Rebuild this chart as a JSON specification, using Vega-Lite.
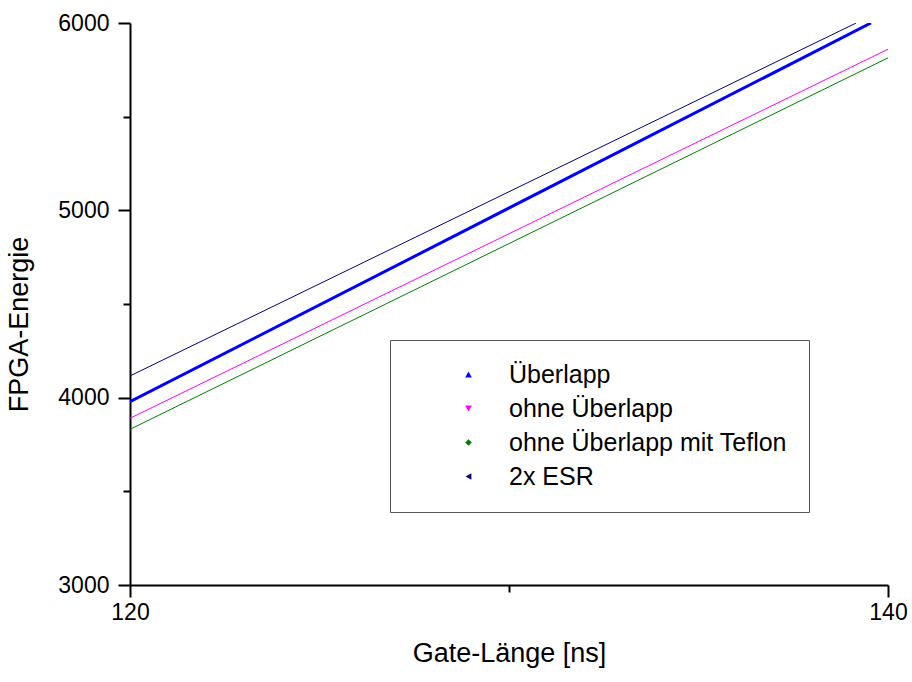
{
  "$schema": "https://vega.github.io/schema/vega-lite/v6.json",
  "width": 758,
  "height": 562,
  "autosize": "none",
  "padding": {"left": 130, "top": 23, "right": 24, "bottom": 97},
  "background": "white",
  "config": {
    "view": {"stroke": null},
    "font": "Liberation Sans"
  },
  "data": {
    "values": [
      {"series": "Überlapp", "x": 120, "y": 3978},
      {"series": "Überlapp", "x": 139.55, "y": 6000},
      {"series": "ohne Überlapp", "x": 120, "y": 3890},
      {"series": "ohne Überlapp", "x": 140, "y": 5860},
      {"series": "ohne Überlapp mit Teflon", "x": 120, "y": 3831},
      {"series": "ohne Überlapp mit Teflon", "x": 140, "y": 5814},
      {"series": "2x ESR", "x": 120, "y": 4116},
      {"series": "2x ESR", "x": 139.16, "y": 6000}
    ]
  },
  "layer": [
    {
      "mark": {"type": "line", "clip": true},
      "encoding": {
        "x": {
          "field": "x", "type": "quantitative",
          "scale": {"domain": [120, 140], "nice": false, "zero": false},
          "axis": {
            "title": "Gate-Länge [ns]",
            "values": [120, 130, 140],
            "labelExpr": "datum.value == 130 ? '' : datum.label",
            "labelFlush": false,
            "grid": false,
            "domainColor": "black", "domainWidth": 2,
            "tickColor": "black", "tickWidth": 2,
            "tickSize": {"condition": {"test": "datum.value == 130", "value": 7}, "value": 12},
            "labelFontSize": 23, "labelColor": "black", "labelPadding": 4,
            "titleFontSize": 27, "titleFontWeight": "normal", "titleColor": "black",
            "titlePadding": 16
          }
        },
        "y": {
          "field": "y", "type": "quantitative",
          "scale": {"domain": [3000, 6000], "nice": false, "zero": false},
          "axis": {
            "title": "FPGA-Energie",
            "values": [3000, 3500, 4000, 4500, 5000, 5500, 6000],
            "labelExpr": "datum.value % 1000 == 0 ? datum.label : ''",
            "labelFlush": false,
            "format": "d",
            "grid": false,
            "domainColor": "black", "domainWidth": 2,
            "tickColor": "black", "tickWidth": 2,
            "tickSize": {"condition": {"test": "datum.value % 1000 != 0", "value": 7}, "value": 12},
            "labelFontSize": 23, "labelColor": "black", "labelPadding": 9,
            "titleFontSize": 27, "titleFontWeight": "normal", "titleColor": "black",
            "titlePadding": 24, "titleY": 301
          }
        },
        "detail": {"field": "series"},
        "stroke": {
          "field": "series", "type": "nominal",
          "scale": {
            "domain": ["2x ESR", "Überlapp", "ohne Überlapp", "ohne Überlapp mit Teflon"],
            "range": ["#000080", "#0000FF", "#FF00FF", "#008000"]
          },
          "legend": null
        },
        "strokeWidth": {"condition": {"test": "datum.series == 'Überlapp'", "value": 3}, "value": 1}
      }
    },
    {
      "mark": {"type": "point", "filled": true, "opacity": 0},
      "encoding": {
        "x": {"field": "x", "type": "quantitative"},
        "y": {"field": "y", "type": "quantitative"},
        "fill": {
          "field": "series", "type": "nominal",
          "scale": {
            "domain": ["Überlapp", "ohne Überlapp", "ohne Überlapp mit Teflon", "2x ESR"],
            "range": ["#0000FF", "#FF00FF", "#008000", "#000080"]
          },
          "legend": {
            "title": null,
            "orient": "none",
            "legendX": 260,
            "legendY": 317,
            "strokeColor": "#555555",
            "fillColor": "white",
            "padding": 22,
            "symbolOffset": 44,
            "symbolSize": 45,
            "symbolOpacity": 1,
            "symbolStrokeWidth": 0,
            "labelFontSize": 25,
            "labelColor": "black",
            "labelOffset": 28,
            "rowPadding": 8,
            "labelLimit": 500
          }
        },
        "shape": {
          "field": "series", "type": "nominal",
          "scale": {
            "domain": ["Überlapp", "ohne Überlapp", "ohne Überlapp mit Teflon", "2x ESR"],
            "range": ["triangle-up", "triangle-down", "diamond", "triangle-left"]
          },
          "legend": {
            "title": null,
            "orient": "none",
            "legendX": 260,
            "legendY": 317,
            "strokeColor": "#555555",
            "fillColor": "white",
            "padding": 22,
            "symbolOffset": 44,
            "symbolSize": 45,
            "symbolOpacity": 1,
            "symbolStrokeWidth": 0,
            "labelFontSize": 25,
            "labelColor": "black",
            "labelOffset": 28,
            "rowPadding": 8,
            "labelLimit": 500
          }
        }
      }
    }
  ]
}
